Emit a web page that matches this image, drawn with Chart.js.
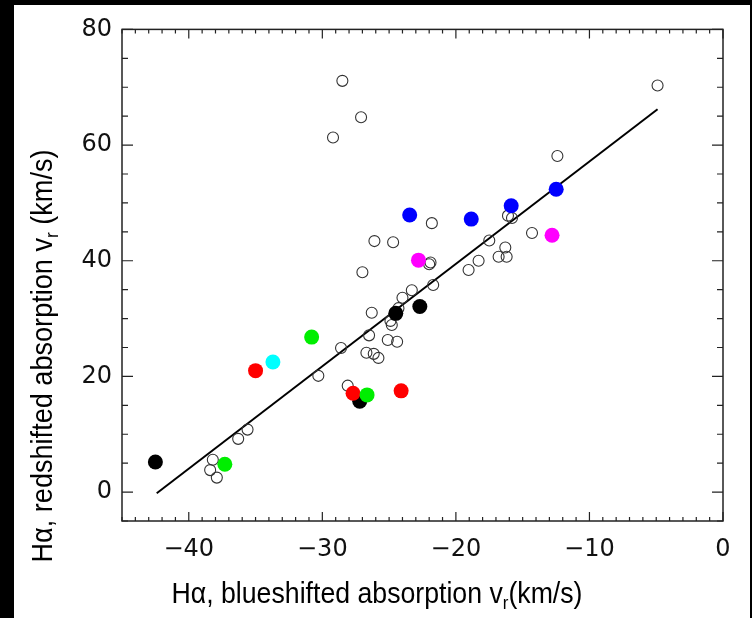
<!DOCTYPE html>
<html>
<head>
<meta charset="utf-8">
<script src="https://cdn.jsdelivr.net/npm/chart.js@4"></script>
<style>
    html, body { margin: 0; padding: 0; background: #000; }
    body { width: 752px; height: 618px; position: relative; overflow: hidden; }
    #wrap { position: absolute; left: 14px; top: 5px; width: 736px; height: 613px; background: #fff; }
</style>
</head>
<body>
<div id="wrap"><canvas id="myChart" width="736" height="613"></canvas></div>
<script>
// axis ticks
const xTicks = [-40, -30, -20, -10, 0];
const yTicks = [0, 20, 40, 60, 80];

// open circles [blueshifted, redshifted]
const openPts = [
    [-28.5, 71.1], [-27.1, 64.8], [-29.2, 61.3], [-4.9, 70.3], [-12.4, 58.1],
    [-21.8, 46.5], [-16.1, 47.8], [-15.8, 47.4], [-26.1, 43.4], [-24.7, 43.2],
    [-14.3, 44.8], [-17.5, 43.5], [-16.3, 42.3], [-16.8, 40.7], [-16.2, 40.7],
    [-18.3, 40.0], [-22.0, 39.4], [-21.9, 39.7], [-19.05, 38.4], [-27.0, 38.0],
    [-23.3, 34.9], [-21.7, 35.8], [-24.0, 33.6], [-24.3, 31.8], [-24.9, 29.6],
    [-24.8, 28.9], [-26.3, 31.0], [-26.5, 27.1], [-25.1, 26.3], [-24.4, 26.0],
    [-28.6, 24.9], [-26.7, 24.1], [-26.15, 23.9], [-25.8, 23.2], [-30.3, 20.1],
    [-28.1, 18.4], [-38.2, 5.6], [-38.4, 3.8], [-37.9, 2.5], [-36.3, 9.2],
    [-35.6, 10.8]
];

// filled points by colour
const blackPts = [[-42.5, 5.2], [-27.2, 15.7], [-24.5, 30.9], [-22.7, 32.1]];
const redPts = [[-35.0, 21.0], [-27.7, 17.1], [-24.1, 17.5]];
const greenPts = [[-37.3, 4.8], [-30.8, 26.8], [-26.65, 16.8]];
const bluePts = [[-23.46, 47.9], [-18.85, 47.2], [-15.86, 49.5], [-12.49, 52.35]];
const magentaPts = [[-22.8, 40.1], [-12.8, 44.4]];
const cyanPts = [[-33.7, 22.5]];

// fitted line end points
const fitLine = [[-42.4, -0.2], [-4.9, 66.2]];

const toXY = arr => arr.map(p => ({ x: p[0], y: p[1] }));
const fmt = v => (v < 0 ? '\u2212' + Math.abs(v) : String(v));
const TICK_FONT = '"DejaVu Sans", Verdana, sans-serif';
const TITLE_FONT = '"Liberation Sans", Arial, Helvetica, sans-serif';

function filled(label, pts, color, order) {
    return {
        label: label,
        data: toXY(pts),
        backgroundColor: color,
        borderColor: color,
        borderWidth: 0,
        pointRadius: 7.5,
        pointHoverRadius: 7.5,
        order: order
    };
}

// box with inward ticks on all four sides
const frameTicks = {
    id: 'frameTicks',
    afterDatasetsDraw(chart) {
        const { ctx, chartArea: a, scales: { x, y } } = chart;
        ctx.save();
        ctx.strokeStyle = '#222';
        ctx.lineWidth = 1.5;
        ctx.strokeRect(a.left, a.top, a.right - a.left, a.bottom - a.top);
        ctx.lineWidth = 1.2;
        ctx.beginPath();
        for (let v = -45; v <= 0; v++) {
            const px = x.getPixelForValue(v);
            const len = v % 10 === 0 ? 9 : 4;
            ctx.moveTo(px, a.bottom); ctx.lineTo(px, a.bottom - len);
            ctx.moveTo(px, a.top); ctx.lineTo(px, a.top + len);
        }
        for (let v = -5; v <= 80; v += 5) {
            const py = y.getPixelForValue(v);
            const len = v % 20 === 0 ? 11 : 6;
            ctx.moveTo(a.left, py); ctx.lineTo(a.left + len, py);
            ctx.moveTo(a.right, py); ctx.lineTo(a.right - len, py);
        }
        ctx.stroke();
        ctx.restore();
    }
};

// axis titles with subscript r (narrow, tall lettering like the original)
const axisTitles = {
    id: 'axisTitles',
    afterDraw(chart) {
        const ctx = chart.ctx;
        const big = '30px ' + TITLE_FONT;
        const small = '19px ' + TITLE_FONT;

        function drawParts(parts, cx, base, target) {
            let w = 0;
            parts.forEach(p => { ctx.font = p.sub ? small : big; w += ctx.measureText(p.t).width; });
            const sx = target / w;
            ctx.save();
            ctx.translate(cx, base);
            ctx.scale(sx, 1);
            let px = -w / 2;
            parts.forEach(p => {
                ctx.font = p.sub ? small : big;
                ctx.fillText(p.t, px, p.sub ? 6 : 0);
                px += ctx.measureText(p.t).width;
            });
            ctx.restore();
        }

        ctx.save();
        ctx.fillStyle = '#000';
        ctx.textBaseline = 'alphabetic';
        drawParts([
            { t: 'H\u03b1, blueshifted absorption v' },
            { t: 'r', sub: true },
            { t: '(km/s)' }
        ], 363, 598, 411);

        ctx.translate(38, 351);
        ctx.rotate(-Math.PI / 2);
        drawParts([
            { t: 'H\u03b1, redshifted absorption v' },
            { t: 'r', sub: true },
            { t: ' (km/s)' }
        ], 0, 0, 413);
        ctx.restore();
    }
};

const ctx = document.getElementById('myChart').getContext('2d');

new Chart(ctx, {
    type: 'scatter',
    data: {
        datasets: [
            {
                label: 'fit',
                type: 'line',
                data: toXY(fitLine),
                borderColor: '#000',
                borderWidth: 2,
                pointRadius: 0,
                fill: false,
                order: 9
            },
            {
                label: 'open',
                data: toXY(openPts),
                backgroundColor: 'rgba(255,255,255,0)',
                borderColor: '#333',
                borderWidth: 1.1,
                pointRadius: 5.5,
                pointHoverRadius: 5.5,
                order: 8
            },
            filled('black', blackPts, '#000000', 7),
            filled('red', redPts, '#ff0000', 6),
            filled('green', greenPts, '#00ee00', 5),
            filled('blue', bluePts, '#0000ff', 4),
            filled('magenta', magentaPts, '#ff00ff', 3),
            filled('cyan', cyanPts, '#00ffff', 2)
        ]
    },
    options: {
        responsive: false,
        animation: false,
        layout: { padding: { left: 0, top: 22, right: 27, bottom: 0 } },
        plugins: {
            legend: { display: false },
            tooltip: { enabled: false }
        },
        scales: {
            x: {
                type: 'linear',
                min: -45,
                max: 0,
                grid: { display: false, drawTicks: false },
                border: { display: false },
                afterFit: s => { s.height = 97; },
                afterBuildTicks: s => { s.ticks = xTicks.map(v => ({ value: v })); },
                ticks: {
                    padding: 14,
                    color: '#111',
                    maxRotation: 0,
                    autoSkip: false,
                    font: { family: TICK_FONT, size: 24 },
                    callback: v => fmt(v)
                }
            },
            y: {
                type: 'linear',
                min: -5,
                max: 80,
                grid: { display: false, drawTicks: false },
                border: { display: false },
                afterFit: s => { s.width = 108; },
                afterBuildTicks: s => { s.ticks = yTicks.map(v => ({ value: v })); },
                ticks: {
                    padding: 10,
                    color: '#111',
                    autoSkip: false,
                    font: { family: TICK_FONT, size: 24 },
                    callback: v => fmt(v)
                }
            }
        }
    },
    plugins: [frameTicks, axisTitles]
});
</script>
</body>
</html>
